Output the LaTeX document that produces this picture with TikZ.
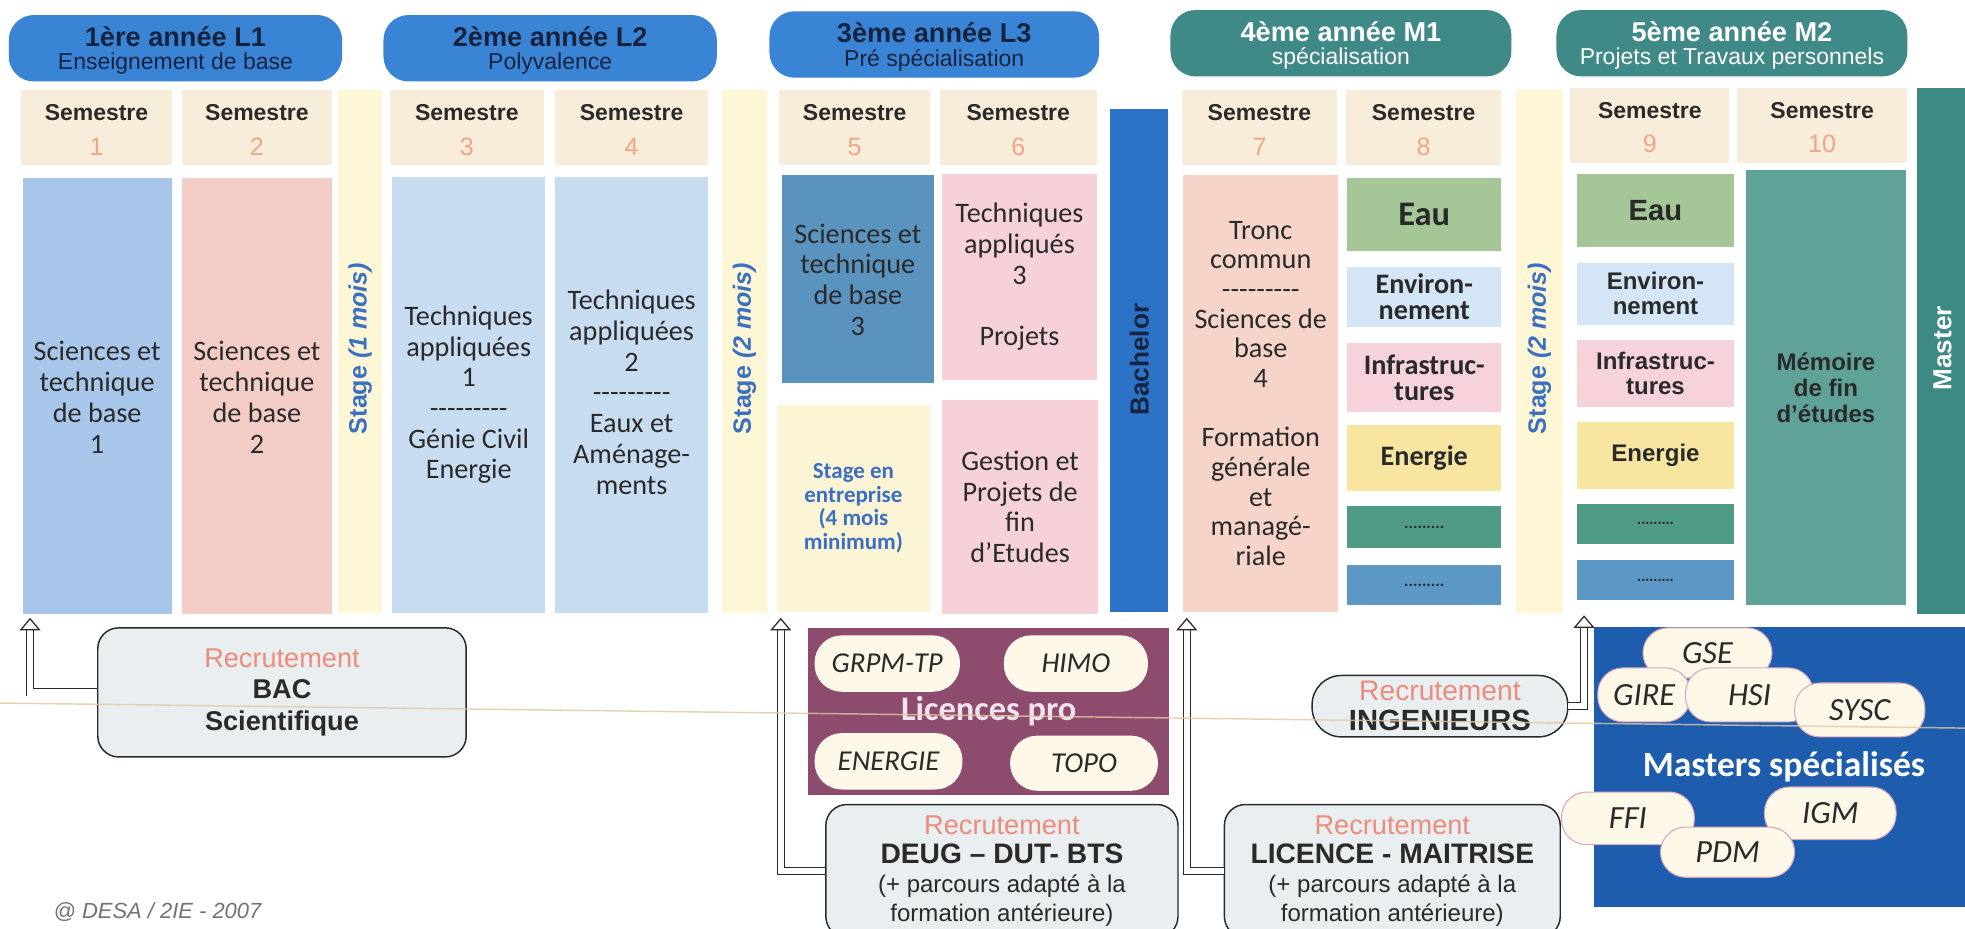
\documentclass[tikz,border=0pt]{standalone}
\usepackage{fontspec}
\setmainfont{Liberation Sans}
\newfontfamily\calib{Carlito}
\usetikzlibrary{arrows.meta}

\definecolor{bleuan}{HTML}{3A84D6}
\definecolor{vertan}{HTML}{3F8A87}
\definecolor{txtan}{HTML}{15233F}
\definecolor{entete}{HTML}{F8EDDB}
\definecolor{numsem}{HTML}{F2A584}
\definecolor{bleusa}{HTML}{A7C6EA}
\definecolor{rosesb}{HTML}{F3CDC5}
\definecolor{jaunestage}{HTML}{FDF7D6}
\definecolor{bleuclair}{HTML}{C8DCF1}
\definecolor{bleuacier}{HTML}{5B93BF}
\definecolor{jaunepale}{HTML}{FBF4D5}
\definecolor{rose}{HTML}{F6D2D8}
\definecolor{bleubach}{HTML}{2C72C6}
\definecolor{saumonpale}{HTML}{F6D4C9}
\definecolor{verteau}{HTML}{A5C797}
\definecolor{bleuenv}{HTML}{D4E6F6}
\definecolor{roseinfra}{HTML}{F6D3DA}
\definecolor{jauneen}{HTML}{F8E6A0}
\definecolor{vertfonce}{HTML}{4F9B86}
\definecolor{bleumoyen}{HTML}{5B98C6}
\definecolor{vertmem}{HTML}{5FA398}
\definecolor{vertmaster}{HTML}{3D8984}
\definecolor{violetlic}{HTML}{8D4B6E}
\definecolor{lictxt}{HTML}{F2E4EC}
\definecolor{bleums}{HTML}{1E5CAE}
\definecolor{creme}{HTML}{FDF8E8}
\definecolor{bordpil}{HTML}{D9A6BD}
\definecolor{grisboite}{HTML}{E9EEF0}
\definecolor{saumon}{HTML}{EC8C7C}
\definecolor{txt}{HTML}{2A2A2A}
\definecolor{bleustage}{HTML}{3B6FC2}
\definecolor{pli}{HTML}{E2C9A2}
\tikzset{
  taille/.style 2 args={minimum width=#1*0.6pt,minimum height=#2*0.6pt,inner sep=0pt},
  annee/.style={rounded corners=12pt},
  titre/.style={font=\bfseries\fontsize{13}{15}\selectfont},
  soustitre/.style={font=\fontsize{11}{13}\selectfont},
  semestre/.style={font=\bfseries\fontsize{11}{13}\selectfont,text=txt},
  numero/.style={font=\fontsize{12}{14}\selectfont,text=numsem},
  corps/.style={font=\calib\fontsize{13.5}{14.7}\selectfont,text=txt,align=center},
  stagetxt/.style={font=\bfseries\fontsize{12}{14}\selectfont,text=bleustage,rotate=90},
  barre/.style={font=\bfseries\fontsize{12.5}{14}\selectfont,rotate=90},
  option/.style={text=txt,align=center},
  recrut/.style={draw=txt,line width=0.7pt,fill=grisboite,rounded corners=10pt,align=center,text=txt},
  fleche/.style={draw=txt,line width=0.45pt,double=white,double distance=3pt,
    -{Triangle[open,length=6pt,width=10pt,line width=0.6pt]}},
  pilule/.style={fill=creme,inner sep=0pt,text=txt},
}

\begin{document}
\begin{tikzpicture}[x=0.6pt,y=-0.6pt]
  \clip (0,0) rectangle (1568,741);
  \fill[white] (0,0) rectangle (1568,741);
  % annees
  \foreach \xa/\xb/\ya/\fond/\encre/\ti/\st [count=\i] in {
    7/273/12/bleuan/txtan/1ère année L1/Enseignement de base,
    306/572/12/bleuan/txtan/2ème année L2/Polyvalence,
    614/877/9/bleuan/txtan/3ème année L3/Pré spécialisation,
    934/1206/8/vertan/white/4ème année M1/spécialisation,
    1242/1522/8/vertan/white/5ème année M2/Projets et Travaux personnels}
  {
    \fill[\fond,annee] (\xa,\ya) rectangle (\xb,{\ya+53});
    \node[titre,text=\encre] (an\i) at ({(\xa+\xb)/2},{\ya+17}) {\ti};
    \node[soustitre,text=\encre] (sous\i) at ({(\xa+\xb)/2},{\ya+39}) {\st};
  }
  % semestres
  \foreach \xa/\xb/\ya/\n in {17/137/72/1,145/265/72/2,311/434/72/3,443/565/72/4,622/742/72/5,
    750/875/72/6,943/1067/72/7,1074/1198/72/8,1253/1380/70/9,1386/1522/70/10}
  {
    \fill[entete] (\xa,\ya) rectangle (\xb,{\ya+60});
    \node[semestre] (sem\n) at ({(\xa+\xb)/2},{\ya+18}) {Semestre};
    \node[numero] (num\n) at ({(\xa+\xb)/2},{\ya+45}) {\n};
  }
  % stages
  \foreach \xa/\xb/\t [count=\i] in {270/305/1 mois,576/612/2 mois,1210/1247/2 mois}
  {
    \fill[jaunestage] (\xa,72) rectangle (\xb,489);
    \node[stagetxt] (stage\i) at ({(\xa+\xb)/2},278) {Stage \textit{(\t)}};
  }
  % annees 1 et 2
  \fill[bleusa] (18,142) rectangle (137,490);
  \node[corps] (c1) at (77.5,317) {Sciences et\\technique\\de base\\1};
  \fill[rosesb] (145,142) rectangle (265,490);
  \node[corps] (c2) at (205,317) {Sciences et\\technique\\de base\\2};
  \fill[bleuclair] (313,141) rectangle (435,489);
  \node[corps] (c3) at (374,315) {Techniques\\appliquées\\1\\-{}-{}-{}-{}-{}-{}-{}-{}-\\Génie Civil\\Energie};
  \fill[bleuclair] (443,141) rectangle (565,489);
  \node[corps] (c4) at (504,313) {Techniques\\appliquées\\2\\-{}-{}-{}-{}-{}-{}-{}-{}-\\Eaux et\\Aménage-\\ments};
  % annee 3
  \fill[bleuacier] (624,140) rectangle (745,306);
  \node[corps] (c5) at (684.5,223) {Sciences et\\technique\\de base\\3};
  \fill[jaunepale] (620,323) rectangle (742,488);
  \node[font=\calib\bfseries\fontsize{11}{11.2}\selectfont,text=bleustage,align=center] (entreprise) at (681,405.5)
    {Stage en\\entreprise\\(4 mois\\minimum)};
  \fill[rose] (752,139) rectangle (875,303);
  \node[corps] (c6) at (813.5,221) {Techniques\\appliqués\\3\\[14.7pt]Projets};
  \fill[rose] (752,319) rectangle (876,490);
  \node[corps] (c6b) at (814,404.5) {Gestion et\\Projets de\\fin\\d’Etudes};
  \fill[bleubach] (886,87) rectangle (932,488);
  \node[barre,text=txtan] (bachelor) at (909,287) {Bachelor};
  % annee 4
  \fill[saumonpale] (944,140) rectangle (1068,488);
  \node[corps,font=\calib\fontsize{13.5}{14.2}\selectfont] (c7) at (1006,314)
    {Tronc\\commun\\-{}-{}-{}-{}-{}-{}-{}-{}-\\Sciences de\\base\\4\\[14.2pt]Formation\\générale\\et\\managé-\\riale};
  \foreach \ya/\yb/\c/\t [count=\i] in {142/200/verteau/{\fontsize{16.5}{16}\selectfont Eau},
    213/261/bleuenv/{Environ-\\nement},274/329/roseinfra/{Infrastruc-\\tures},339/392/jauneen/Energie,
    404/437/vertfonce/{\fontsize{8}{8}\selectfont .........},451/483/bleumoyen/{\fontsize{8}{8}\selectfont .........}}
  {
    \fill[\c] (1075,\ya) rectangle (1198,\yb);
    \node[option,font=\calib\bfseries\fontsize{13.5}{12.5}\selectfont] (huit\i) at (1136.5,{(\ya+\yb)/2}) {\t};
  }
  % annee 5
  \foreach \ya/\yb/\c/\t [count=\i] in {139/197/verteau/{\fontsize{14}{14}\selectfont Eau},
    210/259/bleuenv/{Environ-\\nement},271/325/roseinfra/{Infrastruc-\\tures},337/390/jauneen/Energie,
    402/434/vertfonce/{\fontsize{7}{7}\selectfont .........},447/479/bleumoyen/{\fontsize{7}{7}\selectfont .........}}
  {
    \fill[\c] (1258,\ya) rectangle (1384,\yb);
    \node[option,font=\bfseries\fontsize{11.5}{12}\selectfont] (neuf\i) at (1321,{(\ya+\yb)/2}) {\t};
  }
  \fill[vertmem] (1393,136) rectangle (1521,483);
  \node[option,font=\bfseries\fontsize{11.5}{12.3}\selectfont] (memoire) at (1457,309.5) {Mémoire\\de fin\\d’études};
  \fill[vertmaster] (1530,70) rectangle (1575,490);
  \node[barre,text=white] (master) at (1550,278) {Master};
  % recrutements
  \node[recrut,taille={294}{103},font=\fontsize{13}{15}\selectfont] (bac) at (225,552.5)
    {\textcolor{saumon}{Recrutement}\\\textbf{BAC}\\\textbf{Scientifique}};
  \node[recrut,taille={281}{106},font=\fontsize{11.5}{13.8}\selectfont] (deug) at (799.5,695)
    {{\fontsize{13}{13.8}\selectfont\textcolor{saumon}{Recrutement}}\\{\bfseries\fontsize{13.5}{13.8}\selectfont DEUG – DUT- BTS}\\(+ parcours adapté à la\\formation antérieure)};
  \node[recrut,taille={268}{106},font=\fontsize{11.5}{13.8}\selectfont] (licence) at (1111,695)
    {{\fontsize{13}{13.8}\selectfont\textcolor{saumon}{Recrutement}}\\{\bfseries\fontsize{13.5}{13.8}\selectfont LICENCE - MAITRISE}\\(+ parcours adapté à la\\formation antérieure)};
  \node[recrut,rounded corners=14pt,taille={204}{49},font=\fontsize{13.5}{14.4}\selectfont] (ingenieurs) at (1149,563.5)
    {\textcolor{saumon}{Recrutement}\\{\bfseries\fontsize{14}{14.4}\selectfont INGENIEURS}};
  % fleches
  \coordinate (versun) at (24,493);
  \coordinate (verscinq) at (623,493);
  \coordinate (verssept) at (947,493);
  \coordinate (versneuf) at (1264,491);
  \draw[fleche] (bac.west) -| (versun);
  \draw[fleche] (deug.west) -| (verscinq);
  \draw[fleche] (licence.west) -| (verssept);
  \draw[fleche] (ingenieurs.east) -| (versneuf);
  % licences pro
  \node[fill=violetlic,taille={288}{133},font=\calib\bfseries\fontsize{16.5}{18}\selectfont,text=lictxt] (licpro) at (789,567.5) {Licences pro};
  \node[pilule,rounded corners=13pt,taille={116}{45},font=\calib\itshape\fontsize{13.8}{15}\selectfont] (grpm) at (708,529.5) {GRPM-TP};
  \node[pilule,rounded corners=13pt,taille={115}{45},font=\calib\itshape\fontsize{13.8}{15}\selectfont] (himo) at (858.5,529.5) {HIMO};
  \node[pilule,rounded corners=13pt,taille={118}{45},font=\calib\itshape\fontsize{13.8}{15}\selectfont] (energie) at (709,607.5) {ENERGIE};
  \node[pilule,rounded corners=13pt,taille={118}{44},font=\calib\itshape\fontsize{13.8}{15}\selectfont] (topo) at (865,609) {TOPO};
  % masters specialises
  \node[fill=bleums,taille={303}{224},font=\calib\bfseries\fontsize{17}{18}\selectfont,text=white] (masters) at (1423.5,612) {Masters spécialisés};
  \foreach \nom/\x/\y/\w/\h in {GSE/1362.5/521/103/40,GIRE/1312/554.5/74/43,HSI/1396/554.5/102/43,SYSC/1484/566.5/104/43,
    FFI/1299/653/106/42,IGM/1460.5/649/105/42,PDM/1378.5/680/107/40}
    \node[pilule,draw=bordpil,line width=0.5pt,rounded corners=12pt,taille={\w}{\h},font=\calib\itshape\fontsize{15.5}{16}\selectfont] (ms\nom) at (\x,\y) {\nom};
  % copyright et pli du scan
  \node[anchor=west,font=\itshape\fontsize{10.5}{12}\selectfont,text=black!55] (copyright) at (37,728) {@ DESA / 2IE - 2007};
  \draw[pli,line width=0.7pt,opacity=0.8] (0,561) -- (1568,581);
\end{tikzpicture}
\end{document}
